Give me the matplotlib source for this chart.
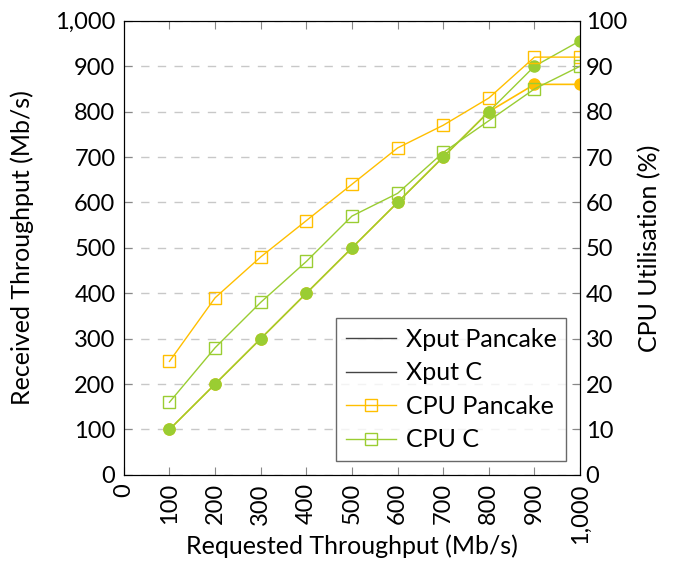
import matplotlib
matplotlib.use("Agg")
import matplotlib.pyplot as plt
from matplotlib.lines import Line2D
from matplotlib.ticker import FuncFormatter

# requested throughput (Mb/s)
requested = [100, 200, 300, 400, 500, 600, 700, 800, 900, 1000]

# received throughput (Mb/s), left axis
xput_pancake = [100, 200, 300, 400, 500, 600, 700, 800, 860, 860]
xput_c = [100, 200, 300, 400, 500, 600, 700, 800, 900, 956]

# CPU utilisation (%), right axis
cpu_pancake = [25, 39, 48, 56, 64, 72, 77, 83, 92, 92]
cpu_c = [16, 28, 38, 47, 57, 62, 71, 78, 85, 90]

ORANGE = "#FFBF00"
GREEN = "#9ACD32"

plt.rcParams['font.family'] = ['Lato', 'DejaVu Sans']
plt.rcParams['font.size'] = 17

fig = plt.figure(figsize=(6.73, 5.62), dpi=100)
ax = fig.add_axes([0.184, 0.155, 0.678, 0.808])
ax2 = ax.twinx()

ax.plot(requested, xput_pancake, color=ORANGE, lw=1.2, marker='o', ms=8, zorder=3)
ax.plot(requested, xput_c, color=GREEN, lw=1.0, marker='o', ms=8, zorder=4)

ax2.plot(requested, cpu_pancake, color=ORANGE, lw=1.0, marker='s', ms=9,
         mfc='none', mew=1.0)
ax2.plot(requested, cpu_c, color=GREEN, lw=1.0, marker='s', ms=9,
         mfc='none', mew=1.0)

ax.set_xlim(0, 1000)
ax.set_ylim(0, 1000)
ax2.set_ylim(0, 100)
ax.set_xticks(range(0, 1001, 100))
ax.set_yticks(range(0, 1001, 100))
ax2.set_yticks(range(0, 101, 10))

comma = FuncFormatter(lambda v, p: f"{int(v):,}")
ax.xaxis.set_major_formatter(comma)
ax.yaxis.set_major_formatter(comma)
plt.setp(ax.get_xticklabels(), rotation=90)

ax.yaxis.grid(True, ls=(0, (6, 6)), color='#c8c8c8', lw=1.0)
ax.set_axisbelow(True)

ax.tick_params(axis='x', direction='in', top=True, length=6, color='#888888', pad=6)
ax.tick_params(axis='y', direction='in', length=6, color='#888888', pad=6)
ax2.tick_params(axis='y', direction='in', length=6, color='#888888', pad=4)

ax.set_xlabel("Requested Throughput (Mb/s)", fontsize=18)
ax.set_ylabel("Received Throughput (Mb/s)", fontsize=18)
ax2.set_ylabel("CPU Utilisation (%)", fontsize=18, labelpad=8)
ax.xaxis.set_label_coords(0.5, -0.132)
ax.yaxis.set_label_coords(-0.197, 0.5)

handles = [
    Line2D([], [], color='#444444', lw=1.0),
    Line2D([], [], color='#444444', lw=1.0),
    Line2D([], [], color=ORANGE, lw=1.0, marker='s', ms=9, mfc='none'),
    Line2D([], [], color=GREEN, lw=1.0, marker='s', ms=9, mfc='none'),
]
labels = ["Xput Pancake", "Xput C", "CPU Pancake", "CPU C"]
leg = ax2.legend(handles, labels, loc='lower right', bbox_to_anchor=(0.97, 0.03),
                 fancybox=False, edgecolor='#444444', fontsize=18,
                 handlelength=2.0, borderaxespad=0, labelspacing=0.42,
                 borderpad=0.4, handletextpad=0.4)
leg.get_frame().set_linewidth(1.0)

fig.savefig("out.png", dpi=100)
